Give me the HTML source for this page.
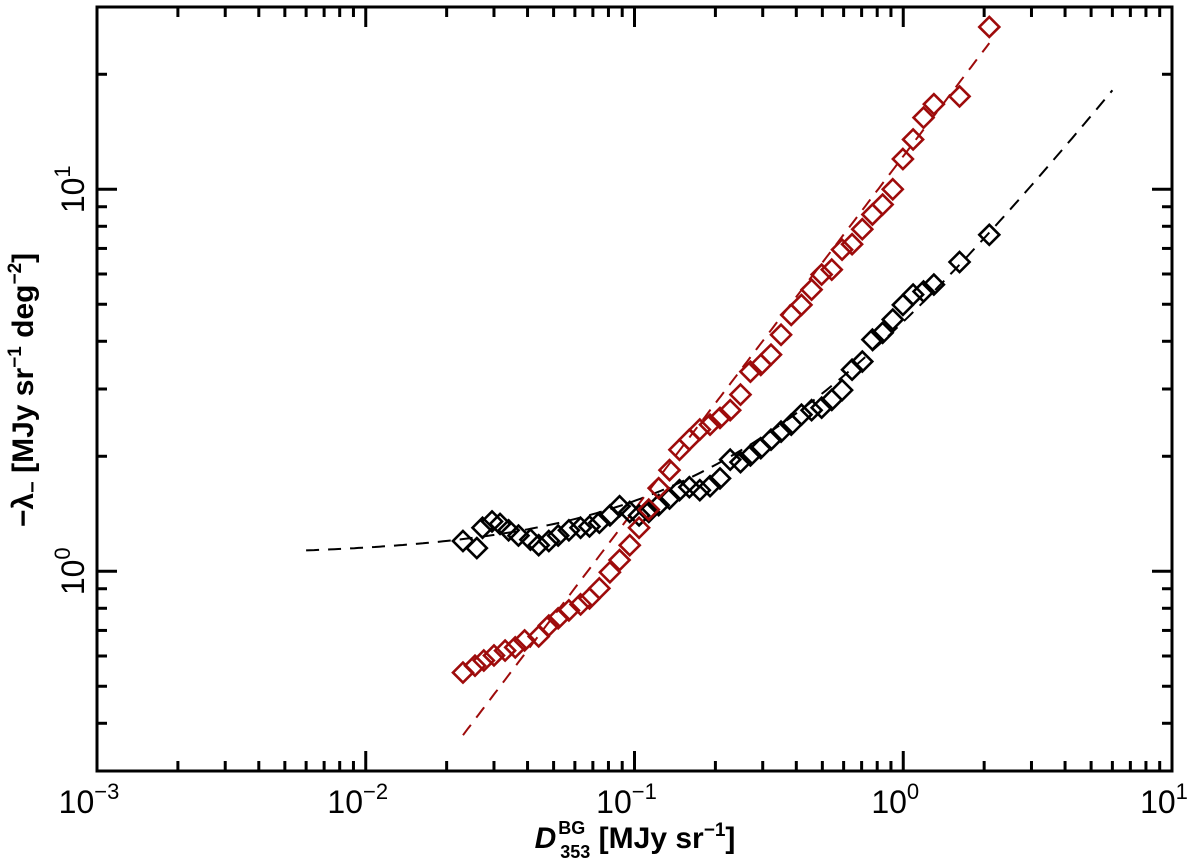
<!DOCTYPE html>
<html><head><meta charset="utf-8"><style>
html,body{margin:0;padding:0;background:#fff;}
svg{display:block;font-family:"Liberation Sans","DejaVu Sans",sans-serif;}
</style></head><body>
<svg id="chart" width="1200" height="859" viewBox="0 0 1200 859">
<g id="marks"></g>
<g id="axes"></g>
<text transform="translate(33,390) rotate(-90)" text-anchor="middle" font-size="30" font-weight="bold">−λ<tspan font-size="20" dy="6">−</tspan><tspan dy="-6"> [MJy sr</tspan><tspan font-size="19" dy="-12">−1</tspan><tspan dy="12"> deg</tspan><tspan font-size="19" dy="-12">−2</tspan><tspan dy="12">]</tspan></text>
<text x="635" y="848" text-anchor="middle" font-size="30" font-weight="bold"><tspan font-style="italic">D</tspan><tspan font-size="18" dy="-14" dx="2">BG</tspan><tspan font-size="18" dy="24" dx="-25">353</tspan><tspan dy="-10"> [MJy sr</tspan><tspan font-size="19" dy="-12">−1</tspan><tspan dy="12">]</tspan></text>
</svg>
<script>
const xTickExps = [-3, -2, -1, 0, 1];
const yTickExps = [0, 1];
const blackX = [0.0230,0.0259,0.0272,0.0295,0.0316,0.034,0.037,0.041,0.044,0.048,0.052,0.057,0.063,0.068,0.074,0.081,0.088,0.096,0.104,0.113,0.123,0.135,0.147,0.160,0.175,0.191,0.208,0.227,0.248,0.270,0.295,0.322,0.351,0.383,0.418,0.456,0.497,0.542,0.592,0.645,0.704,0.768,0.838,0.914,0.997,1.088,1.19,1.30,1.62,2.09];
const blackY = [1.20,1.15,1.30,1.35,1.33,1.28,1.24,1.21,1.17,1.20,1.24,1.28,1.30,1.31,1.34,1.40,1.48,1.43,1.40,1.43,1.49,1.55,1.63,1.66,1.63,1.67,1.75,1.96,1.93,2.01,2.10,2.21,2.32,2.42,2.57,2.64,2.68,2.81,2.98,3.37,3.54,4.04,4.21,4.56,4.98,5.30,5.40,5.63,6.45,7.6];
const redX = [0.0230,0.0255,0.0275,0.030,0.033,0.036,0.039,0.044,0.048,0.052,0.057,0.063,0.068,0.074,0.081,0.088,0.096,0.104,0.113,0.123,0.135,0.147,0.160,0.175,0.191,0.208,0.227,0.248,0.270,0.295,0.322,0.351,0.383,0.418,0.456,0.497,0.542,0.592,0.645,0.704,0.768,0.838,0.914,0.997,1.088,1.19,1.30,1.62,2.09];
const redY = [0.543,0.566,0.584,0.602,0.620,0.632,0.659,0.675,0.721,0.753,0.790,0.819,0.849,0.902,0.994,1.07,1.17,1.30,1.45,1.65,1.84,2.08,2.21,2.35,2.42,2.52,2.64,2.90,3.33,3.47,3.69,4.16,4.69,4.98,5.46,5.98,6.16,6.95,7.18,7.86,8.59,9.12,10.0,12.0,13.5,15.4,16.7,17.5,26.6];
const blackFit = [1.1, 3.4, 0.90];   // offset, amplitude, exponent
const blackFitRange = [0.006, 6.0];
const redFit = [12.2, 0.925];         // amplitude, exponent
const redFitRange = [0.023, 2.09];

const L=97,R=1172,T=7,B=771;
const xmin=-3,xmax=1,ymin=Math.log10(0.3),ymax=Math.log10(30);
const sx=v=>L+(Math.log10(v)-xmin)/(xmax-xmin)*(R-L);
const sy=v=>B-(Math.log10(v)-ymin)/(ymax-ymin)*(B-T);
const NS="http://www.w3.org/2000/svg";
const marks=document.getElementById('marks'), axes=document.getElementById('axes');
function mk(tag,parent){const e=document.createElementNS(NS,tag);parent.appendChild(e);return e;}

function fitPath(fn,range,color,name){
  let d="";const n=200;
  for(let i=0;i<=n;i++){const lx=Math.log10(range[0])+(Math.log10(range[1])-Math.log10(range[0]))*i/n;const x=Math.pow(10,lx);d+=(i?"L":"M")+sx(x).toFixed(1)+","+sy(fn(x)).toFixed(1);}
  const p=mk('path',marks);p.setAttribute('d',d);p.setAttribute('fill','none');p.setAttribute('stroke',color);p.setAttribute('stroke-width','2');p.setAttribute('stroke-dasharray','13,9');
  
  
}
fitPath(x=>blackFit[0]+blackFit[1]*Math.pow(x,blackFit[2]),blackFitRange,'#000','black-fit-line');
fitPath(x=>redFit[0]*Math.pow(x,redFit[1]),redFitRange,'#9e0b0b','red-fit-line');

function diamonds(xs,ys,color,name){
  const g=mk('g',marks);
  
  
  for(let i=0;i<xs.length;i++){const cx=sx(xs[i]),cy=sy(ys[i]),r=10;
    const p=mk('polygon',g);p.setAttribute('points',`${cx},${cy-r} ${cx+r},${cy} ${cx},${cy+r} ${cx-r},${cy}`);
    p.setAttribute('fill','none');p.setAttribute('stroke',color);p.setAttribute('stroke-width','2.6');
    
    
  }
}
diamonds(blackX,blackY,'#000','black-series');
diamonds(redX,redY,'#9e0b0b','red-series');

const fr=mk('rect',axes);fr.setAttribute('x',L);fr.setAttribute('y',T);fr.setAttribute('width',R-L);fr.setAttribute('height',B-T);fr.setAttribute('fill','none');fr.setAttribute('stroke','#000');fr.setAttribute('stroke-width','3');


function line(x1,y1,x2,y2){const l=mk('line',axes);l.setAttribute('x1',x1);l.setAttribute('y1',y1);l.setAttribute('x2',x2);l.setAttribute('y2',y2);l.setAttribute('stroke','#000');l.setAttribute('stroke-width','3');
  
  }
for(let e=-3;e<1;e++)for(let m=1;m<10;m++){const x=sx(m*Math.pow(10,e));const len=m==1?20:10;if(m==1&&e==-3)continue;line(x,B,x,B-len);line(x,T,x,T+len);}
for(let e=-1;e<2;e++)for(let m=1;m<10;m++){const v=m*Math.pow(10,e);if(v<0.3||v>30)continue;const y=sy(v);const len=m==1?20:10;line(L,y,L+len,y);line(R,y,R-len,y);}
xTickExps.forEach(e=>{const t=mk('text',axes);t.setAttribute('x',sx(Math.pow(10,e))-8);t.setAttribute('y',B+42);t.setAttribute('text-anchor','middle');t.setAttribute('font-size','32');
  
  
  t.innerHTML='10<tspan font-size="22" dy="-14">'+(e<0?'−'+(-e):e)+'</tspan>';});
yTickExps.forEach(e=>{const t=mk('text',axes);const y=sy(Math.pow(10,e));t.setAttribute('transform',`translate(84,${y}) rotate(-90)`);t.setAttribute('text-anchor','middle');t.setAttribute('font-size','32');
  
  
  t.innerHTML='10<tspan font-size="22" dy="-14">'+e+'</tspan>';});
</script>
</body></html>
